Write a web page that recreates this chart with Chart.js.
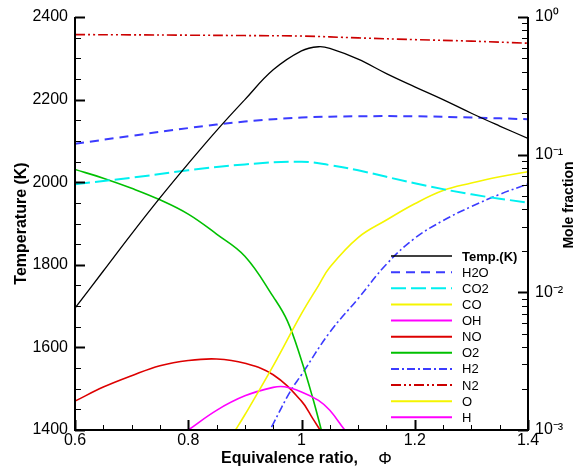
<!DOCTYPE html>
<html><head><meta charset="utf-8">
<script src="https://cdn.jsdelivr.net/npm/chart.js@4"></script>
<style>html,body{margin:0;padding:0;background:#fff}</style>
</head><body>
<canvas id="c" width="576" height="474"></canvas>
<script>
// ---- tick values / labels ----
const phiTicks = [0.6, 0.8, 1.0, 1.2, 1.4];
const tempTicks = [1400, 1600, 1800, 2000, 2200, 2400];
const moleTicks = [0.001, 0.01, 0.1, 1];
const moleTickLabels = ['10\u207B\u00B3', '10\u207B\u00B2', '10\u207B\u00B9', '10\u2070'];

// ---- series ----
const tempPhi = [0.60,0.65,0.70,0.75,0.80,0.85,0.90,0.95,1.00,1.03,1.05,1.10,1.15,1.20,1.25,1.30,1.35,1.40];
const tempK   = [1695,1785,1875,1962,2045,2125,2200,2272,2318,2328,2324,2298,2263,2231,2200,2167,2136,2106];

const h2oPhi = [0.6,0.7,0.8,0.9,1.0,1.1,1.2,1.3,1.4];
const h2oX   = [0.120,0.137,0.156,0.174,0.186,0.190,0.190,0.186,0.181];

const co2Phi = [0.6,0.7,0.8,0.9,1.0,1.05,1.1,1.2,1.3,1.4];
const co2X   = [0.061,0.068,0.077,0.085,0.089,0.084,0.077,0.062,0.0515,0.0448];

const coPhi = [0.88,0.90,0.95,1.00,1.03,1.05,1.10,1.15,1.20,1.25,1.30,1.35,1.40];
const coX   = [0.00095,0.00129,0.00292,0.0070,0.0112,0.0152,0.0250,0.0335,0.0440,0.0549,0.0622,0.0692,0.0752];

const ohPhi = [0.78,0.80,0.85,0.90,0.95,0.97,1.00,1.03,1.05,1.08,1.10];
const ohX   = [0.00088,0.00100,0.00139,0.00177,0.00204,0.00206,0.00189,0.00164,0.00139,0.00096,0.00080];

const noPhi = [0.6,0.65,0.7,0.75,0.8,0.85,0.9,0.95,1.0,1.02,1.04];
const noX   = [0.00162,0.00205,0.00248,0.00293,0.00320,0.00328,0.00305,0.00252,0.00162,0.00121,0.00090];

const o2Phi = [0.6,0.65,0.7,0.75,0.8,0.85,0.9,0.95,0.975,1.0,1.02,1.035,1.045];
const o2X   = [0.078,0.0675,0.057,0.047,0.037,0.0265,0.0183,0.0093,0.0062,0.0032,0.0017,0.0010,0.0007];

const h2Phi = [0.93,0.944,0.95,0.98,1.0,1.05,1.1,1.15,1.2,1.25,1.3,1.35,1.4];
const h2X   = [0.00085,0.0010,0.00111,0.0019,0.00252,0.00513,0.0090,0.0160,0.0247,0.0332,0.0420,0.0515,0.0612];

const n2Phi = [0.6,0.7,0.8,0.9,1.0,1.1,1.2,1.3,1.4];
const n2X   = [0.745,0.742,0.738,0.733,0.727,0.705,0.685,0.668,0.645];

const oPhi = [];  // below 1e-3 everywhere: not visible
const oX   = [];
const hPhi = [];
const hX   = [];

const seriesNames = ['Temp.(K)','H2O','CO2','CO','OH','NO','O2','H2','N2','O','H'];

function pts(xs, ys){ return xs.map((v,i)=>({x:v, y:ys[i]})); }

const FONT = "'Liberation Sans', Arial, Helvetica, sans-serif";
Chart.defaults.font.family = FONT;
Chart.defaults.color = '#000';

function ds(label, xs, ys, color, dash, width, axis){
  return {label, data: pts(xs, ys), borderColor: color, backgroundColor: color,
    borderDash: dash, borderWidth: width, yAxisID: axis, pointRadius: 0,
    tension: 0.4, fill: false};
}

const datasets = [
  ds(seriesNames[0], tempPhi, tempK, '#000000', [], 1.3, 'y'),
  ds(seriesNames[1], h2oPhi, h2oX, '#3b3bff', [9,6], 2, 'y1'),
  ds(seriesNames[2], co2Phi, co2X, '#00f0f0', [15,5], 2, 'y1'),
  ds(seriesNames[3], coPhi, coX, '#f5f500', [], 1.6, 'y1'),
  ds(seriesNames[4], ohPhi, ohX, '#ff00ff', [], 1.6, 'y1'),
  ds(seriesNames[5], noPhi, noX, '#dd0000', [], 1.6, 'y1'),
  ds(seriesNames[6], o2Phi, o2X, '#00c000', [], 1.6, 'y1'),
  ds(seriesNames[7], h2Phi, h2X, '#3b3bff', [8,3,2,3], 1.6, 'y1'),
  ds(seriesNames[8], n2Phi, n2X, '#cc0000', [10,3,2,3,2,3], 1.6, 'y1'),
  ds(seriesNames[9], oPhi, oX, '#f5f500', [], 1.6, 'y1'),
  ds(seriesNames[10], hPhi, hX, '#ff00ff', [], 1.6, 'y1')
];

const frame = {
  id: 'frame',
  afterDatasetsDraw(chart){
    const {ctx, chartArea: a, scales} = chart;
    const X = scales.x, Y = scales.y, Y1 = scales.y1;
    ctx.save();
    ctx.strokeStyle = '#000';
    ctx.lineCap = 'butt';
    ctx.lineWidth = 2;
    ctx.beginPath();
    ctx.moveTo(a.left, a.top); ctx.lineTo(a.left, a.bottom);
    ctx.lineTo(a.right, a.bottom); ctx.lineTo(a.right, a.top);
    ctx.stroke();
    const tick = (x1,y1,x2,y2,w)=>{ ctx.lineWidth=w; ctx.beginPath(); ctx.moveTo(x1,y1); ctx.lineTo(x2,y2); ctx.stroke(); };
    const tStep = (tempTicks[1]-tempTicks[0])/4;
    for (let v = tempTicks[0]; v <= tempTicks[tempTicks.length-1]+1e-6; v += tStep){
      const p = Math.round(Y.getPixelForValue(v)) + 0.5;
      const major = tempTicks.includes(v);
      tick(a.left, p, a.left + (major?10:6), p, major?2:1);
    }
    const xStep = (phiTicks[1]-phiTicks[0])/4;
    for (let i = 0; i <= (phiTicks.length-1)*4; i++){
      const v = phiTicks[0] + i*xStep;
      const p = Math.round(X.getPixelForValue(v)) + 0.5;
      const major = i % 4 === 0;
      tick(p, a.bottom, p, a.bottom - (major?10:5), major?2:1);
    }
    for (let d = 0; d < moleTicks.length; d++){
      const base = moleTicks[d];
      const pM = Math.round(Y1.getPixelForValue(base)) + 0.5;
      tick(a.right, pM, a.right - 10, pM, 2);
      if (d < moleTicks.length-1){
        for (let m = 2; m <= 9; m++){
          const p = Math.round(Y1.getPixelForValue(base*m)) + 0.5;
          tick(a.right, p, a.right - 6, p, 1);
        }
      }
    }
    ctx.restore();
  },
  afterDraw(chart){
    const {ctx, chartArea: a} = chart;
    ctx.save();
    ctx.fillStyle = '#000';
    ctx.textAlign = 'center'; ctx.textBaseline = 'middle';
    ctx.font = 'bold 16px ' + FONT;
    ctx.save(); ctx.translate(22, (a.top + a.bottom)/2); ctx.rotate(-Math.PI/2);
    ctx.fillText('Temperature (K)', 0, 0); ctx.restore();
    ctx.font = 'bold 14px ' + FONT;
    ctx.save(); ctx.translate(569, 205); ctx.rotate(-Math.PI/2);
    ctx.fillText('Mole fraction', 0, 0); ctx.restore();
    ctx.textAlign = 'left';
    ctx.font = 'bold 16px ' + FONT;
    ctx.fillText('Equivalence ratio,', 221, 459);
    ctx.font = '17px ' + FONT;
    ctx.textAlign = 'center';
    ctx.fillText('\u03A6', 385, 459);
    ctx.textAlign = 'left';
    chart.data.datasets.forEach((d, i) => {
      const yy = 256 + i*16.13;
      ctx.strokeStyle = d.borderColor;
      ctx.lineWidth = i === 0 ? 1.6 : 2;
      ctx.setLineDash(d.borderDash || []);
      ctx.beginPath(); ctx.moveTo(391, yy); ctx.lineTo(452, yy); ctx.stroke();
      ctx.setLineDash([]);
      ctx.font = (i === 0 ? 'bold ' : '') + '13px ' + FONT;
      ctx.fillText(d.label, 462, yy + 1);
    });
    ctx.restore();
  }
};

new Chart(document.getElementById('c'), {
  type: 'line',
  data: { datasets },
  options: {
    responsive: false, animation: false, devicePixelRatio: 1, events: [],
    layout: { padding: { top: 17, left: 0, right: 0, bottom: 0 } },
    plugins: { legend: { display: false }, tooltip: { enabled: false } },
    scales: {
      x: {
        type: 'linear', position: 'bottom', min: 0.6, max: 1.4,
        afterBuildTicks: s => { s.ticks = phiTicks.map(v => ({ value: v })); },
        afterFit: s => { s.height = 44; },
        grid: { display: false, drawTicks: false }, border: { display: false },
        ticks: { font: { size: 16 }, color: '#000', padding: 1, maxRotation: 0,
                 callback: v => String(+(+v).toFixed(2)) }
      },
      y: {
        type: 'linear', position: 'left', min: 1400, max: 2400,
        afterBuildTicks: s => { s.ticks = tempTicks.map(v => ({ value: v })); },
        afterFit: s => { s.width = 75; },
        grid: { display: false, drawTicks: false }, border: { display: false },
        ticks: { font: { size: 16 }, color: '#000', padding: 7, callback: v => String(v) }
      },
      y1: {
        type: 'logarithmic', position: 'right', min: 0.001, max: 1,
        afterBuildTicks: s => { s.ticks = moleTicks.map(v => ({ value: v })); },
        afterFit: s => { s.width = 48; },
        grid: { display: false, drawTicks: false }, border: { display: false },
        ticks: { font: { size: 16 }, color: '#000', padding: 7,
                 callback: (v) => moleTickLabels[moleTicks.findIndex(t => Math.abs(t - v) < t*1e-6)] }
      }
    }
  },
  plugins: [frame]
});
</script>
</body></html>
